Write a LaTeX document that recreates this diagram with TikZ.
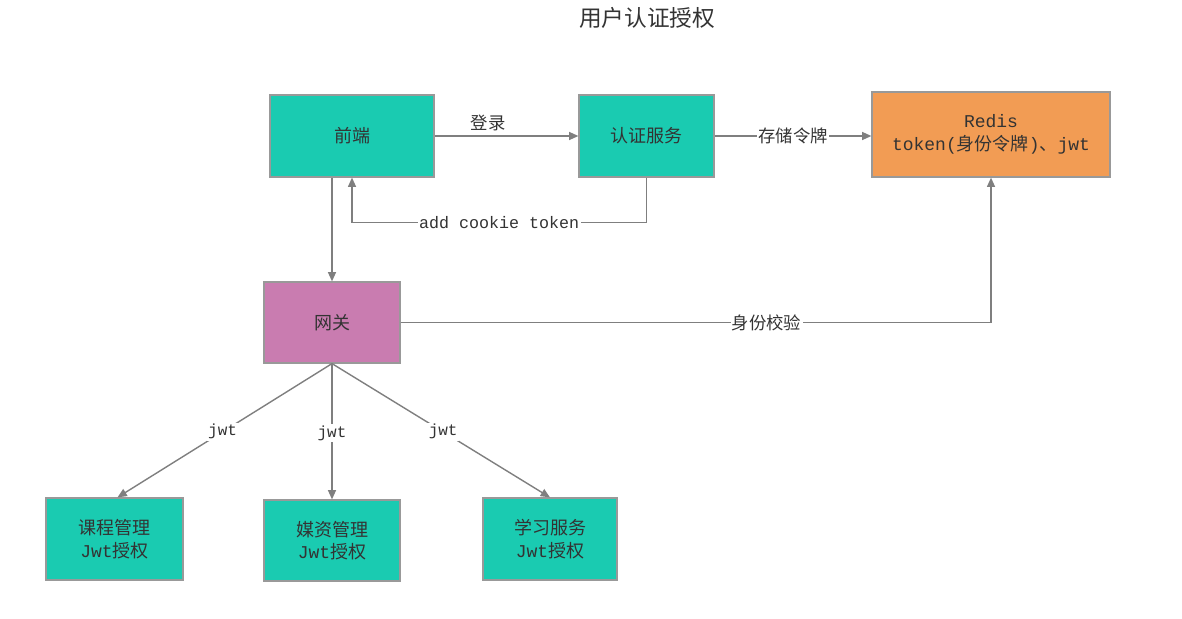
\documentclass[tikz,border=0pt]{standalone}
\usepackage{fontspec}
\setmainfont{Noto Sans CJK SC}
\newfontfamily\cjk{Noto Sans CJK SC}
\newfontfamily\mono{Liberation Mono}
\usetikzlibrary{arrows.meta}
\definecolor{tealbox}{HTML}{1ACBB1}
\definecolor{orangebox}{HTML}{F29C54}
\definecolor{pinkbox}{HTML}{C97CB0}
\definecolor{edge}{HTML}{7F7F7F}
\definecolor{txt}{HTML}{333333}
\tikzset{
  box/.style={draw=edge!80, line width=0.9pt, inner sep=0pt, align=center,
    text=txt, font=\cjk\fontsize{13.5}{17}\selectfont},
  arr/.style={draw=edge, line width=1.05pt, -{Triangle[length=7pt,width=6pt]}},
  lbl/.style={fill=white, inner sep=1pt, text=txt, font=\fontsize{12.5}{15}\selectfont},
}
\begin{document}
\begin{tikzpicture}[x=0.75pt, y=-0.75pt]
\useasboundingbox (0,0) rectangle (1182,618);
\node[text=txt, font=\cjk\fontsize{17}{20}\selectfont] (title) at (647,18) {用户认证授权};

\node[box, fill=tealbox, minimum width=164*0.75pt, minimum height=82*0.75pt] (fe) at (352,136) {前端};
\node[box, fill=tealbox, minimum width=135*0.75pt, minimum height=82*0.75pt] (auth) at (646.5,136) {认证服务};
\node[box, fill=orangebox, minimum width=238*0.75pt, minimum height=85*0.75pt] (redis) at (991,134.5)
  {{\mono Redis}\\{\mono token(}身份令牌{\mono )}、{\mono jwt}};
\node[box, fill=pinkbox, minimum width=136*0.75pt, minimum height=81*0.75pt] (gw) at (332,322.5) {网关};
\node[box, fill=tealbox, minimum width=137*0.75pt, minimum height=82*0.75pt] (kc) at (114.5,539) {课程管理\\{\mono Jwt}授权};
\node[box, fill=tealbox, minimum width=136*0.75pt, minimum height=81*0.75pt] (mz) at (332,540.5) {媒资管理\\{\mono Jwt}授权};
\node[box, fill=tealbox, minimum width=134*0.75pt, minimum height=82*0.75pt] (xx) at (550,539) {学习服务\\{\mono Jwt}授权};

\draw[arr] (fe.east) -- (auth.west);
\node[lbl, font=\cjk\fontsize{13}{15}\selectfont] (login) at (488,123) {登录};
\draw[arr] (auth.east) -- (auth.east -| redis.west) node[midway, lbl, font=\cjk\fontsize{13}{15}\selectfont] {存储令牌};
\draw[arr] (auth.south) -- ++(0,45) -| node[pos=0.25, lbl, font=\mono\fontsize{12.5}{15}\selectfont] {add cookie token} (fe.south);
\draw[arr] (fe.south -| gw.north) -- (gw.north);
\draw[arr] (gw.east) -| node[pos=0.31, lbl, font=\cjk\fontsize{13}{15}\selectfont] {身份校验} (redis.south);
\draw[arr] (gw.south) -- ([xshift=3*0.75pt]kc.north) node[pos=0.51, lbl, font=\mono\fontsize{12}{15}\selectfont] {jwt};
\draw[arr] (gw.south) -- (mz.north) node[pos=0.51, lbl, font=\mono\fontsize{12}{15}\selectfont] {jwt};
\draw[arr] (gw.south) -- (xx.north) node[pos=0.51, lbl, font=\mono\fontsize{12}{15}\selectfont] {jwt};
\end{tikzpicture}
\end{document}
